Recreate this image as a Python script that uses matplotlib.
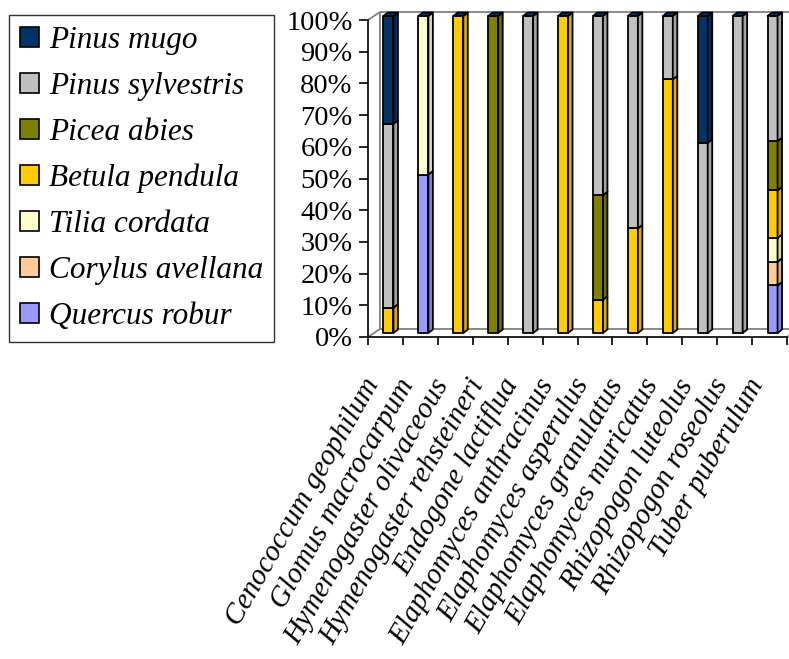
import matplotlib
matplotlib.use("Agg")
import matplotlib.pyplot as plt
from matplotlib.patches import Patch, Polygon
from matplotlib.transforms import ScaledTranslation
from matplotlib.colors import to_rgb

fungi = [
    "Cenococcum geophilum", "Glomus macrocarpum", "Hymenogaster olivaceous",
    "Hymenogaster rehsteineri", "Endogone lactiflua", "Elaphomyces anthracinus",
    "Elaphomyces asperulus", "Elaphomyces granulatus", "Elaphomyces muricatus",
    "Rhizopogon luteolus", "Rhizopogon roseolus", "Tuber puberulum",
]

# share of each host tree (%) per fungus, stacked bottom to top
quercus_robur    = [0, 50, 0, 0, 0, 0, 0, 0, 0, 0, 0, 15.0]
corylus_avellana = [0, 0, 0, 0, 0, 0, 0, 0, 0, 0, 0, 7.5]
tilia_cordata    = [0, 50, 0, 0, 0, 0, 0, 0, 0, 0, 0, 7.5]
betula_pendula   = [8, 0, 100, 0, 0, 100, 10.5, 33, 80, 0, 0, 15.0]
picea_abies      = [0, 0, 0, 100, 0, 0, 33, 0, 0, 0, 0, 15.5]
pinus_sylvestris = [58, 0, 0, 0, 100, 0, 56.5, 67, 20, 60, 100, 39.5]
pinus_mugo       = [34, 0, 0, 0, 0, 0, 0, 0, 0, 40, 0, 0]

hosts = ["Quercus robur", "Corylus avellana", "Tilia cordata", "Betula pendula",
         "Picea abies", "Pinus sylvestris", "Pinus mugo"]
host_values = [quercus_robur, corylus_avellana, tilia_cordata, betula_pendula,
               picea_abies, pinus_sylvestris, pinus_mugo]
host_colors = ["#9999FF", "#FFCC99", "#FFFFCC", "#FFCC00",
               "#808000", "#C0C0C0", "#003366"]
yticks = list(range(0, 101, 10))
ytick_labels = [f"{v}%" for v in yticks]

SERIF = "Liberation Serif"
DPI = 100
W, H = 789, 659

fig = plt.figure(figsize=(W / DPI, H / DPI), dpi=DPI)
ax = fig.add_axes([368 / W, (H - 337) / H, (787 - 368) / W, 317 / H])
ax.set_xlim(-0.5, 11.5)
ax.set_ylim(0, 100)

px_x = ax.bbox.width / 12.0   # pixels per category
px_y = ax.bbox.height / 100.0  # pixels per percent


def shade(c, f):
    r, g, b = to_rgb(c)
    return (r * f, g * f, b * f)


# back wall and floor outline (oblique depth)
wdx, wdy = 12 / px_x, 8 / px_y
wall = dict(color="#808080", lw=1.3, clip_on=False, zorder=1, solid_capstyle="butt")
ax.plot([-0.5, -0.5 + wdx], [100, 100 + wdy], **wall)
ax.plot([-0.5, -0.5 + wdx], [0, wdy], **wall)
ax.plot([-0.5 + wdx, -0.5 + wdx], [wdy, 100 + wdy], **wall)
ax.plot([-0.5 + wdx, 12.5], [100 + wdy, 100 + wdy], **wall)
ax.plot([-0.5 + wdx, 12.5], [wdy, wdy], **wall)
ax.plot([11.5, 11.5 + wdx], [0, wdy], **wall)

# stacked 3-D columns
bar_tr = ax.transData + ScaledTranslation(3 / DPI, 4 / DPI, fig.dpi_scale_trans)
bw = 10 / px_x
ddx, ddy = 4.5 / px_x, 3.5 / px_y
edge = dict(edgecolor="black", linewidth=1.3, joinstyle="round")

bottoms = [0.0] * len(fungi)
for vals, col in zip(host_values, host_colors):
    for i, v in enumerate(vals):
        if v <= 0:
            continue
        b = bottoms[i]
        ax.bar(i, v, bottom=b, width=bw, color=col, transform=bar_tr,
               clip_on=False, zorder=3, **edge)
        xr = i + bw / 2
        side = Polygon([(xr, b), (xr + ddx, b + ddy), (xr + ddx, b + v + ddy), (xr, b + v)],
                       closed=True, facecolor=shade(col, 0.85), transform=bar_tr,
                       clip_on=False, zorder=3, **edge)
        ax.add_patch(side)
        bottoms[i] += v

for i, top in enumerate(bottoms):
    xl, xr = i - bw / 2, i + bw / 2
    cap = Polygon([(xl, top), (xr, top), (xr + ddx, top + ddy), (xl + ddx, top + ddy)],
                  closed=True, facecolor="#003366", transform=bar_tr,
                  clip_on=False, zorder=4, **edge)
    ax.add_patch(cap)

# axes styling
for s in ("top", "right"):
    ax.spines[s].set_visible(False)
for s in ("left", "bottom"):
    ax.spines[s].set_color("black")
    ax.spines[s].set_linewidth(1.2)
    ax.spines[s].set_zorder(5)

ax.set_yticks(yticks, ytick_labels)
ax.tick_params(axis="y", length=6.5, width=1.2, pad=4.5, labelsize=20.5)
for lab in ax.get_yticklabels():
    lab.set_family(SERIF)

ax.set_xticks([k - 0.5 for k in range(13)], minor=True)
ax.tick_params(axis="x", which="minor", length=6, width=1.2)
ax.set_xticks(range(len(fungi)))
ax.tick_params(axis="x", which="major", length=0, pad=34)
ax.set_xticklabels(fungi, rotation=60, ha="right", va="baseline",
                   rotation_mode="anchor", fontsize=21, family=SERIF, style="italic")
xoff = ScaledTranslation(-6 / DPI, 0, fig.dpi_scale_trans)
for lab in ax.get_xticklabels():
    lab.set_transform(lab.get_transform() + xoff)

# legend, top series first
handles = [Patch(facecolor=c, edgecolor="black", linewidth=1.2)
           for c in host_colors[::-1]]
leg = fig.legend(handles, hosts[::-1], loc="upper left",
                 bbox_to_anchor=(9 / W, 1 - 15 / H),
                 frameon=True, fancybox=False, shadow=False, framealpha=1,
                 edgecolor="#333333",
                 prop=dict(family=SERIF, style="italic", size=22.5),
                 handlelength=0.6, handleheight=0.6, handletextpad=0.33,
                 labelspacing=0.54, borderpad=0.35, borderaxespad=0)
leg.get_frame().set_linewidth(1.0)

fig.savefig("out.png", dpi=DPI, facecolor="white")
